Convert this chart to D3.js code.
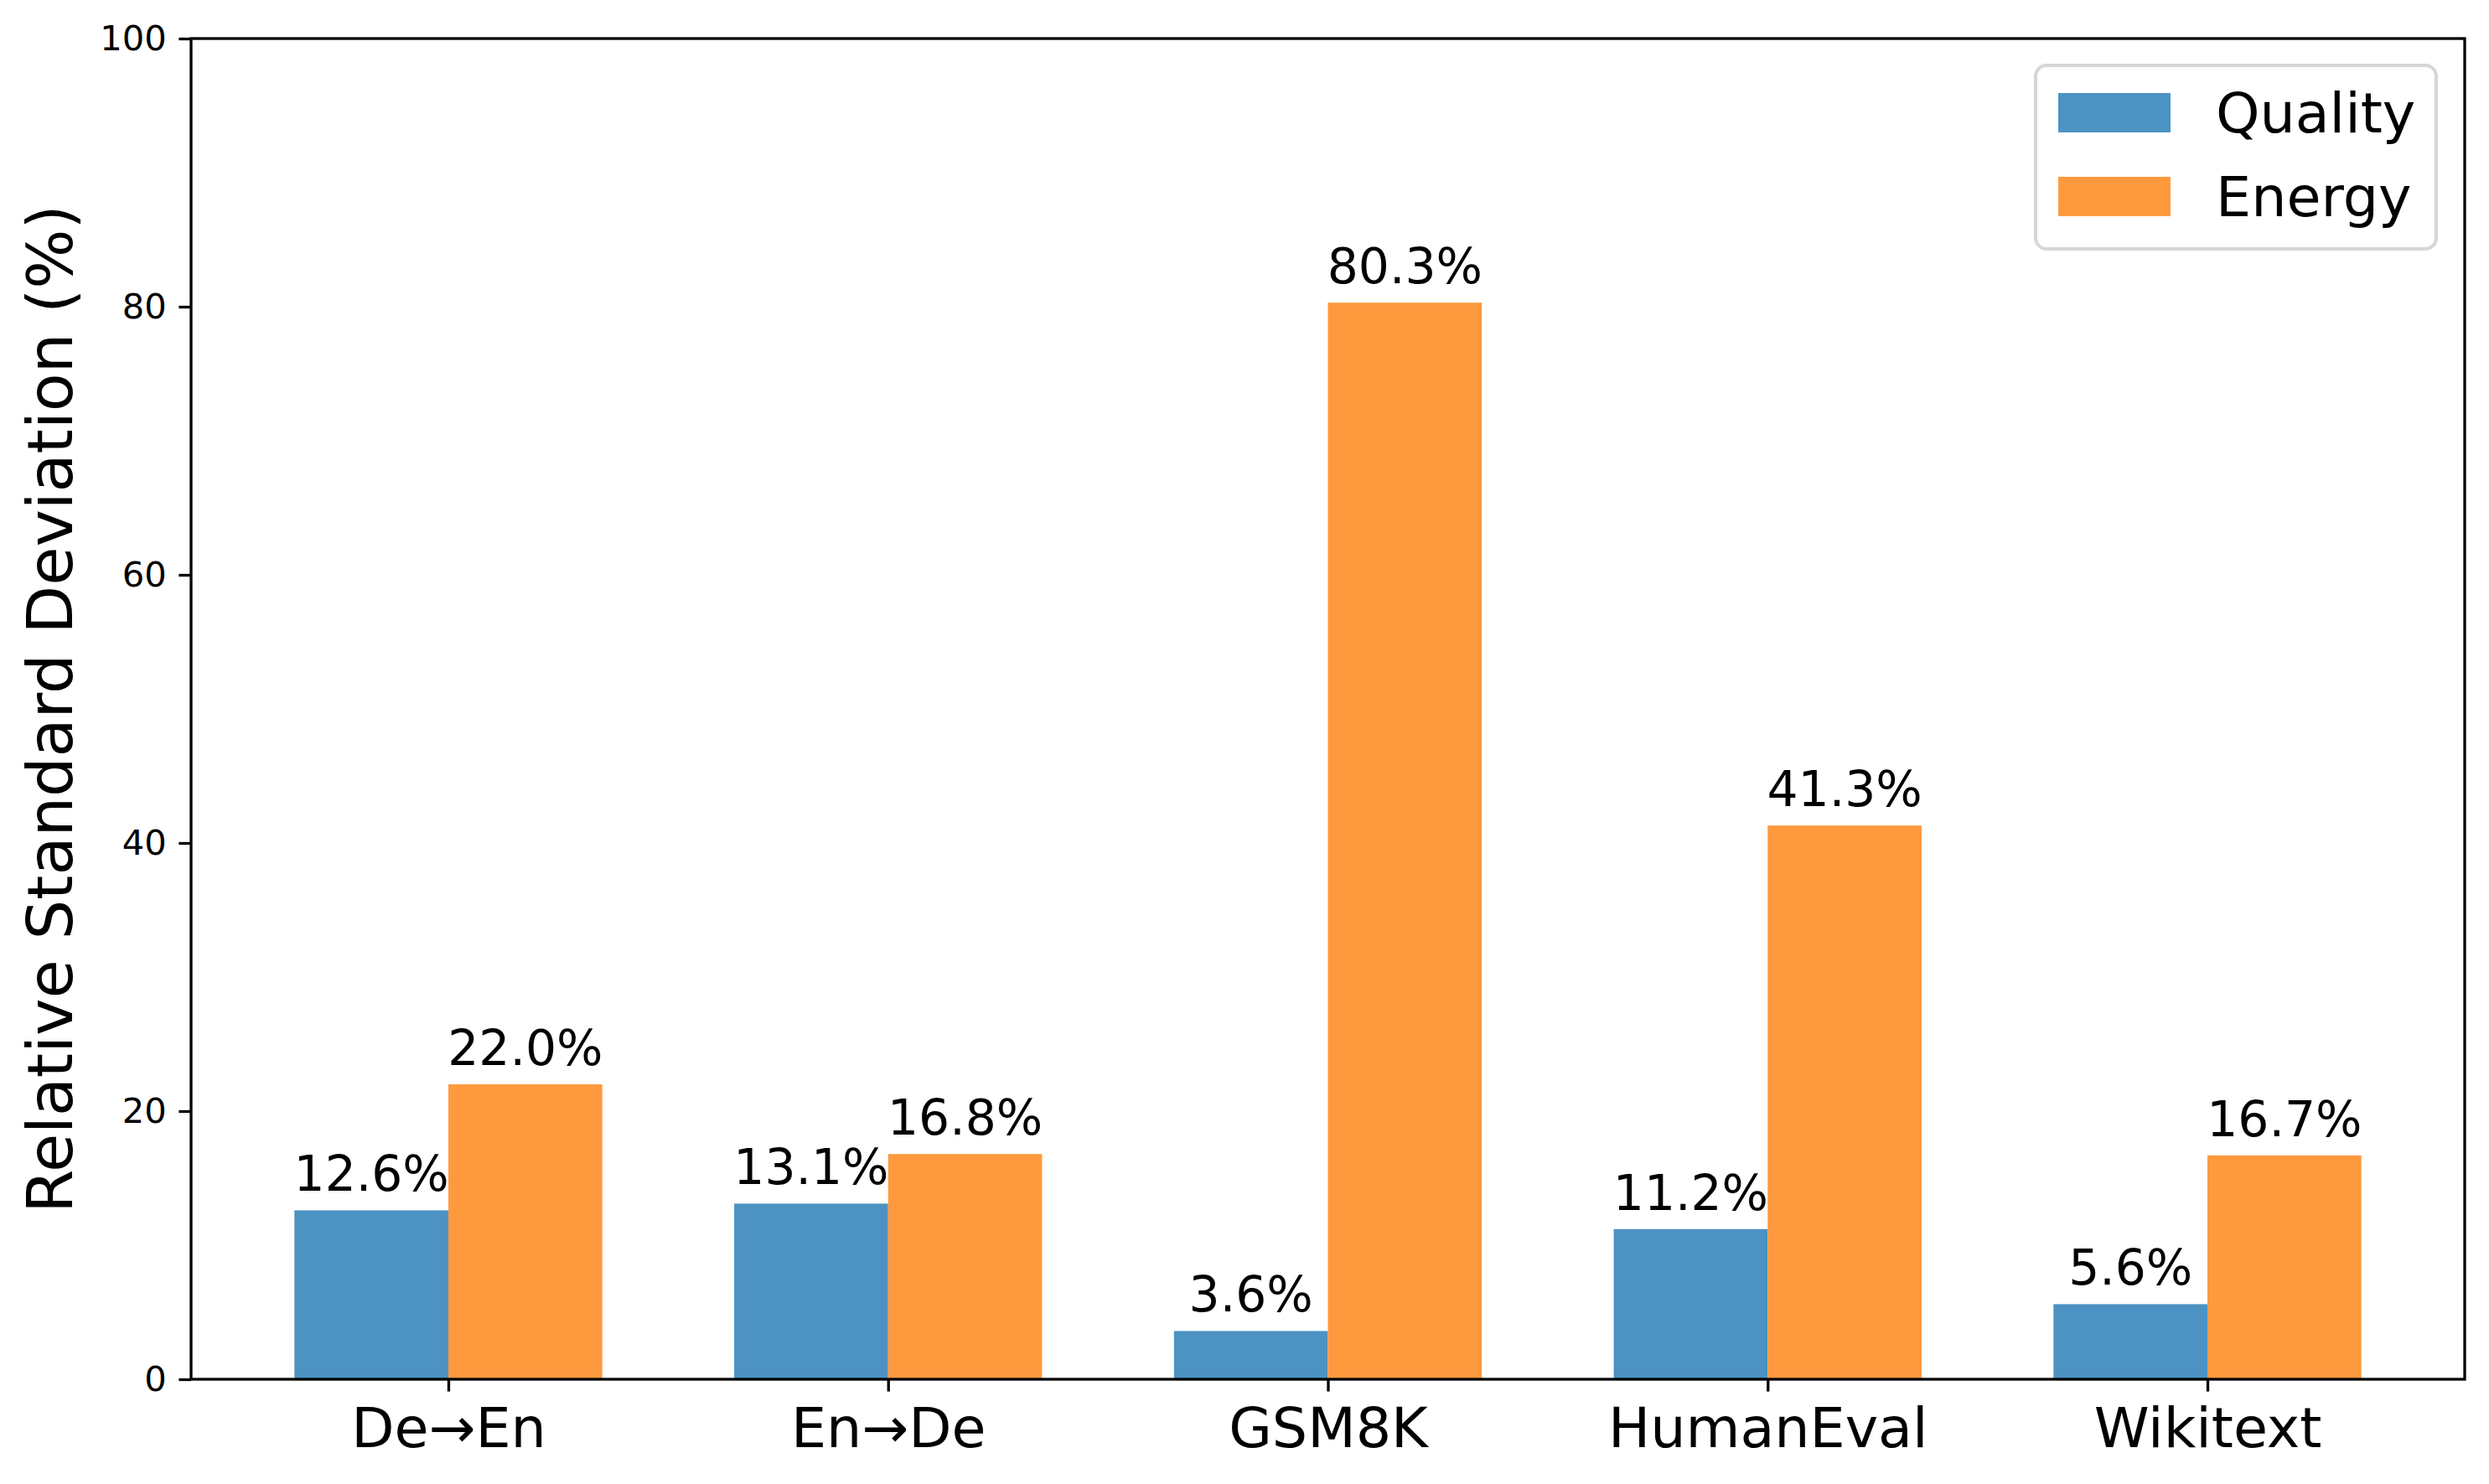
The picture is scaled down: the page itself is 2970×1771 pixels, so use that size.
<!DOCTYPE html>
<html><head><meta charset="utf-8">
<script src="https://cdn.jsdelivr.net/npm/d3@7"></script>
<style>body{margin:0;background:#fff}svg{display:block}text{font-family:"DejaVu Sans",sans-serif}</style>
</head><body>
<script>
const categories = ["De\u2192En", "En\u2192De", "GSM8K", "HumanEval", "Wikitext"];
const seriesNames = ["Quality", "Energy"];
const quality = [12.6, 13.1, 3.6, 11.2, 5.6];
const energy = [22.0, 16.8, 80.3, 41.3, 16.7];
const yTicks = [0, 20, 40, 60, 80, 100];
const colors = ["#4c92c3", "#ff993e"];

const W = 2970, H = 1771;
const L = 228, R = 2941, T = 46, B = 1646;
const barW = 0.35;
const lo = -barW, hi = categories.length - 1 + barW, pad = 0.05 * (hi - lo);

const svg = d3.select("body").append("svg").attr("width", W).attr("height", H);
svg.append("rect").attr("width", W).attr("height", H).attr("fill", "#fff");

const x = d3.scaleLinear().domain([lo - pad, hi + pad]).range([L, R]);
const y = d3.scaleLinear().domain([0, 100]).range([B, T]);
const pxPerUnit = x(1) - x(0);

const series = [quality, energy];
const g = svg.append("g");
series.forEach((vals, si) => {
  const off = si === 0 ? -barW / 2 : barW / 2;
  g.selectAll(null).data(vals).enter().append("rect")
    .attr("x", (d, i) => x(i + off - barW / 2))
    .attr("width", barW * pxPerUnit)
    .attr("y", d => y(d))
    .attr("height", d => y(0) - y(d))
    .attr("fill", colors[si]);
  g.selectAll(null).data(vals).enter().append("text")
    .attr("x", (d, i) => x(i + off))
    .attr("y", d => y(d) - 23)
    .attr("text-anchor", "middle")
    .attr("font-size", 58.3)
    .attr("fill", "#000")
    .text(d => d.toFixed(1) + "%");
});

// axes
const yAxis = d3.axisLeft(y).tickValues(yTicks).tickSize(14.6).tickPadding(14.6).tickFormat(d3.format("d"));
const ya = svg.append("g").attr("transform", `translate(${L},0)`).call(yAxis);
ya.select(".domain").remove();
ya.selectAll(".tick line").attr("stroke", "#000").attr("stroke-width", 3.3);
ya.selectAll(".tick text").attr("font-size", 41.7).attr("fill", "#000").attr("font-family", "DejaVu Sans");

const xAxis = d3.axisBottom(x).tickValues(categories.map((c, i) => i)).tickSize(14.6).tickPadding(14.6).tickFormat(i => categories[i]);
const xa = svg.append("g").attr("transform", `translate(0,${B})`).call(xAxis);
xa.select(".domain").remove();
xa.selectAll(".tick line").attr("stroke", "#000").attr("stroke-width", 3.3);
xa.selectAll(".tick text").attr("font-size", 66.7).attr("fill", "#000").attr("font-family", "DejaVu Sans").attr("dy", null).attr("y", 1727 - B);

// spines
svg.append("rect").attr("x", L).attr("y", T).attr("width", R - L).attr("height", B - T)
  .attr("fill", "none").attr("stroke", "#000").attr("stroke-width", 3.3);

// y label
svg.append("text").attr("transform", `translate(86,${(T + B) / 2}) rotate(-90)`)
  .attr("text-anchor", "middle").attr("font-size", 75).attr("fill", "#000")
  .text("Relative Standard Deviation (%)");

// legend
const lg = svg.append("g");
lg.append("rect").attr("x", 2429).attr("y", 78).attr("width", 2907 - 2429).attr("height", 297 - 78)
  .attr("rx", 13).attr("ry", 13).attr("fill", "#fff").attr("fill-opacity", 0.8)
  .attr("stroke", "#d6d6d6").attr("stroke-width", 4);
seriesNames.forEach((name, i) => {
  const cy = 134.5 + i * 100;
  lg.append("rect").attr("x", 2456).attr("y", cy - 23.5).attr("width", 134).attr("height", 47).attr("fill", colors[i]);
  lg.append("text").attr("x", 2644).attr("y", cy + 23.5).attr("font-size", 66.7).attr("fill", "#000").text(name);
});
</script>
</body></html>
